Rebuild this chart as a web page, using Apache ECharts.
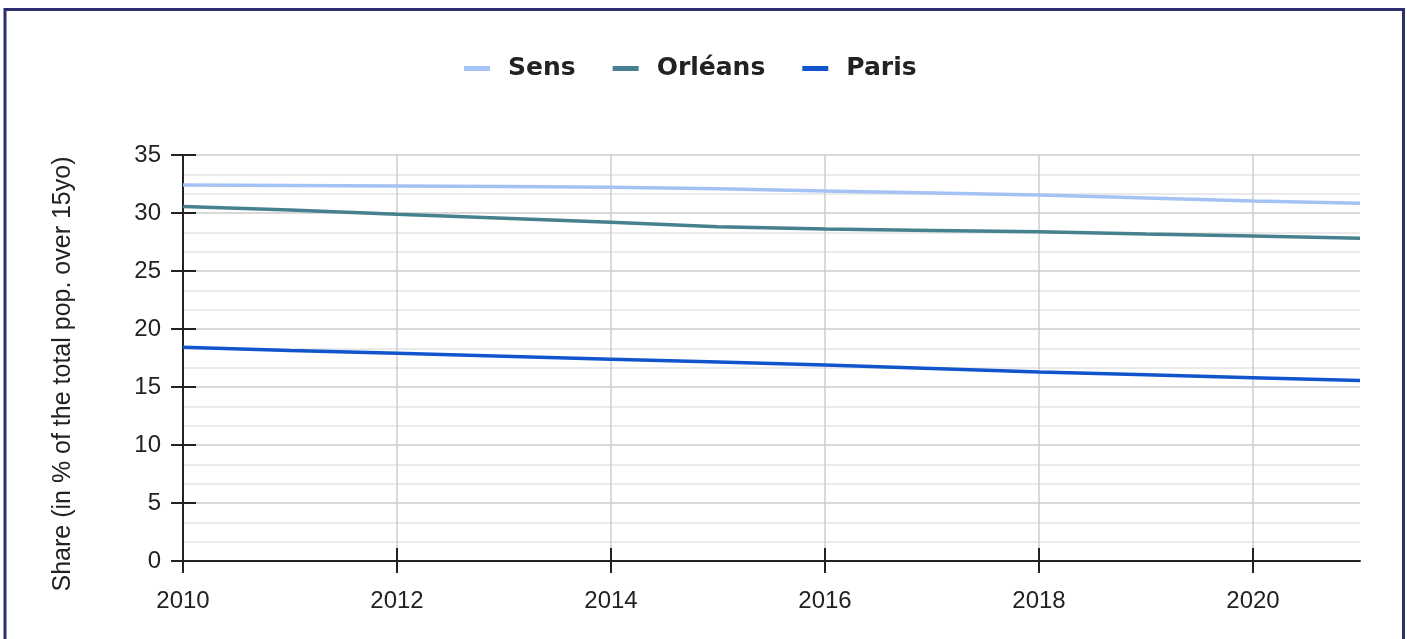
<!DOCTYPE html>
<html>
<head>
<meta charset="utf-8">
<script src="https://cdn.jsdelivr.net/npm/echarts@6/dist/echarts.min.js"></script>
<style>
  html, body { margin: 0; padding: 0; background: #ffffff; }
  #chart { width: 1407px; height: 639px; }
</style>
</head>
<body>
<div id="chart"></div>
<script>
// Years on the horizontal axis
const years = ['2010', '2011', '2012', '2013', '2014', '2015', '2016', '2017', '2018', '2019', '2020', '2021'];

// Share of the population over 15 years old (%)
const sens    = [32.41, 32.37, 32.33, 32.28, 32.22, 32.08, 31.90, 31.73, 31.55, 31.30, 31.03, 30.84];
const orleans = [30.55, 30.25, 29.89, 29.55, 29.20, 28.82, 28.62, 28.50, 28.39, 28.20, 28.02, 27.82];
const paris   = [18.42, 18.15, 17.90, 17.65, 17.40, 17.15, 16.90, 16.60, 16.30, 16.05, 15.80, 15.55];

const seriesNames = ['Sens', 'Orléans', 'Paris'];
const seriesColors = ['#a4c2f4', '#45818e', '#1155cc'];
const yTitle = 'Share (in % of the total pop. over 15yo)';

const chart = echarts.init(document.getElementById('chart'), null, { renderer: 'canvas' });

const labelFont = { fontFamily: 'Liberation Sans, Arial, sans-serif', fontSize: 24, color: '#222222' };
const grid = { left: 183, right: 47, top: 155, bottom: 78 };

const xBase = {
  type: 'category',
  data: years,
  boundaryGap: false,
  position: 'bottom'
};
const yBase = {
  type: 'value',
  min: 0,
  max: 35,
  interval: 5,
  position: 'left'
};

chart.setOption({
  backgroundColor: '#ffffff',
  animation: false,
  grid: grid,
  legend: {
    left: 459,
    top: 51,
    itemWidth: 26,
    itemHeight: 5,
    itemGap: 37,
    icon: 'rect',
    data: seriesNames,
    textStyle: {
      fontFamily: 'DejaVu Sans, sans-serif',
      fontWeight: 'bold',
      fontSize: 25,
      color: '#222222',
      padding: [0, 0, 0, 13]
    }
  },
  xAxis: [
    Object.assign({}, xBase, {
      axisLine: { show: true, lineStyle: { color: '#222222', width: 2 } },
      axisTick: { show: true, interval: 1, length: 12, lineStyle: { color: '#222222', width: 2 } },
      axisLabel: Object.assign({ interval: 1, margin: 28 }, labelFont),
      splitLine: { show: true, interval: 1, lineStyle: { color: '#cccccc', width: 1.5 } }
    }),
    Object.assign({}, xBase, {
      axisLine: { show: false },
      axisTick: { show: true, inside: true, interval: 1, length: 13, lineStyle: { color: '#222222', width: 2 } },
      axisLabel: { show: false },
      splitLine: { show: false }
    })
  ],
  yAxis: [
    Object.assign({}, yBase, {
      axisLine: { show: true, lineStyle: { color: '#222222', width: 2 } },
      axisTick: { show: true, length: 12, lineStyle: { color: '#222222', width: 2 } },
      axisLabel: Object.assign({ margin: 22 }, labelFont),
      splitLine: { show: true, lineStyle: { color: '#cccccc', width: 1.5 } },
      minorTick: { show: false, splitNumber: 3 },
      minorSplitLine: { show: true, lineStyle: { color: '#e3e3e3', width: 1.5 } }
    }),
    Object.assign({}, yBase, {
      axisLine: { show: false },
      axisTick: { show: true, inside: true, length: 13, lineStyle: { color: '#222222', width: 2 } },
      axisLabel: { show: false },
      splitLine: { show: false }
    })
  ],
  series: [
    { name: seriesNames[0], type: 'line', data: sens },
    { name: seriesNames[1], type: 'line', data: orleans },
    { name: seriesNames[2], type: 'line', data: paris }
  ].map((s, i) => Object.assign(s, {
    xAxisIndex: 0,
    yAxisIndex: 0,
    showSymbol: false,
    symbol: 'none',
    color: seriesColors[i],
    lineStyle: { color: seriesColors[i], width: 3.5 },
    z: 3 + i
  })),
  graphic: [
    {
      type: 'text',
      x: 63,
      y: 374,
      rotation: Math.PI / 2,
      style: {
        text: yTitle,
        fontFamily: 'Liberation Sans, Arial, sans-serif',
        fontSize: 25,
        fill: '#222222',
        align: 'center',
        verticalAlign: 'middle'
      }
    },
    {
      type: 'rect',
      shape: { x: 5, y: 9.5, width: 1398.5, height: 700 },
      style: { fill: 'none', stroke: '#2b2f6e', lineWidth: 3 },
      silent: true
    }
  ]
});
</script>
</body>
</html>
